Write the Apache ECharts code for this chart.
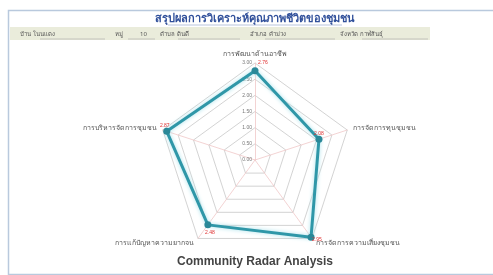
<!DOCTYPE html>
<html>
<head>
<meta charset="utf-8">
<script src="https://cdn.jsdelivr.net/npm/echarts@6/dist/echarts.min.js"></script>
<style>
  html, body { margin: 0; padding: 0; background: #fff; }
  #echarts_container { width: 493px; height: 275px; }
</style>
</head>
<body>
<div id="echarts_container"></div>
<script>
var chartDom = document.getElementById('echarts_container');
var myChart = echarts.init(chartDom);
var option;

// ชื่อด้าน (ECharts วางทวนเข็มนาฬิกาเริ่มด้านบน)
let indicators = ['การพัฒนาด้านอาชีพ', 'การบริหารจัดการชุมชน', 'การแก้ปัญหาความยากจน', 'การจัดการความเสี่ยงชุมชน', 'การจัดการทุนชุมชน']
let scores = [2.76, 2.87, 2.48, 2.95, 2.08]
let tickLabels = ['0.00', '0.50', '1.00', '1.50', '2.00', '2.50', '3.00']
let headerInfo = ['บ้าน โนนแดง', 'หมู่', '10', 'ตำบล ดินดี', 'อำเภอ คำม่วง', 'จังหวัด กาฬสินธุ์']

let labelPos = [['right', [0, -8]], ['top', [-2, 0]], ['bottom', [2, 2]], ['right', [-2, 2]], ['top', [0, 0]]]

// ป้ายตัวเลขแยกทีละจุด ใช้ชุดข้อมูลโปร่งใสซ้อน
let labelItems = labelPos.map((lp, i) => ({
    value: scores,
    symbolSize: 0.1,
    lineStyle: { opacity: 0, width: 0 },
    itemStyle: { color: 'rgba(0,0,0,0)' },
    label: {
        show: true,
        position: lp[0],
        offset: lp[1],
        color: '#e03030',
        fontSize: 5,
        distance: 3,
        formatter: p => p.dimensionIndex === i ? scores[i].toFixed(2) : ''
    }
}))

option = {
    graphic: [
        { type: 'rect', shape: { x: 8.5, y: 10.5, width: 490, height: 264 }, style: { fill: '#fff', stroke: '#b9c9dd', lineWidth: 1.5 }, z: -10 },
        { type: 'rect', shape: { x: 10, y: 27, width: 420, height: 13 }, style: { fill: '#eaecdb' }, z: -9 },
        { type: 'text', x: 255, y: 19, style: { text: 'สรุปผลการวิเคราะห์คุณภาพชีวิตของชุมชน', fill: '#2f4f9a', font: 'bold 11px "Noto Sans"', textAlign: 'center', textVerticalAlign: 'middle' } },
        { type: 'line', shape: { x1: 168, y1: 25, x2: 342, y2: 25 }, style: { stroke: '#8aa0c8', lineWidth: 0.6 } },
        { type: 'text', x: 20, y: 34, style: { text: headerInfo[0], fill: '#555', font: '6px "Noto Sans"', textVerticalAlign: 'middle' } },
        { type: 'line', shape: { x1: 40, y1: 39, x2: 105, y2: 39 }, style: { stroke: '#999', lineWidth: 0.5 } },
        { type: 'text', x: 115, y: 34, style: { text: headerInfo[1], fill: '#555', font: '6px "Noto Sans"', textVerticalAlign: 'middle' } },
        { type: 'text', x: 140, y: 34, style: { text: headerInfo[2], fill: '#555', font: '6px "Noto Sans"', textVerticalAlign: 'middle' } },
        { type: 'line', shape: { x1: 128, y1: 39, x2: 155, y2: 39 }, style: { stroke: '#999', lineWidth: 0.5 } },
        { type: 'text', x: 160, y: 34, style: { text: headerInfo[3], fill: '#555', font: '6px "Noto Sans"', textVerticalAlign: 'middle' } },
        { type: 'line', shape: { x1: 178, y1: 39, x2: 240, y2: 39 }, style: { stroke: '#999', lineWidth: 0.5 } },
        { type: 'text', x: 250, y: 34, style: { text: headerInfo[4], fill: '#555', font: '6px "Noto Sans"', textVerticalAlign: 'middle' } },
        { type: 'line', shape: { x1: 265, y1: 39, x2: 335, y2: 39 }, style: { stroke: '#999', lineWidth: 0.5 } },
        { type: 'text', x: 340, y: 34, style: { text: headerInfo[5], fill: '#555', font: '6px "Noto Sans"', textVerticalAlign: 'middle' } },
        { type: 'line', shape: { x1: 362, y1: 39, x2: 428, y2: 39 }, style: { stroke: '#999', lineWidth: 0.5 } },
        { type: 'text', x: 255, y: 262, style: { text: 'Community Radar Analysis', fill: '#444', font: 'bold 12px "Liberation Sans"', textAlign: 'center', textVerticalAlign: 'middle' } }
    ],
    radar: {
        center: [255, 160],
        radius: 97,
        startAngle: 90,
        splitNumber: 6,
        shape: 'polygon',
        nameGap: 6,
        axisName: { color: '#555', fontSize: 7, fontFamily: 'Noto Sans' },
        axisLine: { lineStyle: { color: '#f0c8c8', width: 0.8 } },
        splitLine: { lineStyle: { color: '#c8c8c8', width: 0.8 } },
        splitArea: { show: false },
        axisLabel: { show: false },
        indicator: indicators.map(n => ({ name: n, min: 0, max: 3 }))
    },
    polar: { center: [255, 160], radius: 97 },
    angleAxis: { show: false, type: 'value', min: 0, max: 360, startAngle: 90 },
    radiusAxis: {
        type: 'value', min: 0, max: 3, interval: 0.5,
        axisLine: { show: false }, axisTick: { show: false }, splitLine: { show: false },
        axisLabel: {
            fontSize: 5, color: '#777', margin: 3,
            formatter: v => tickLabels[Math.round(v / 0.5)]
        }
    },
    series: [
        {
            type: 'radar',
            symbol: 'circle',
            symbolSize: 7,
            lineStyle: { color: '#2f97a8', width: 3, shadowColor: '#a6e0ea', shadowBlur: 4 },
            itemStyle: { color: '#2a8898' },
            data: [{ value: scores }].concat(labelItems)
        }
    ]
};

option && myChart.setOption(option);
</script>
</body>
</html>
